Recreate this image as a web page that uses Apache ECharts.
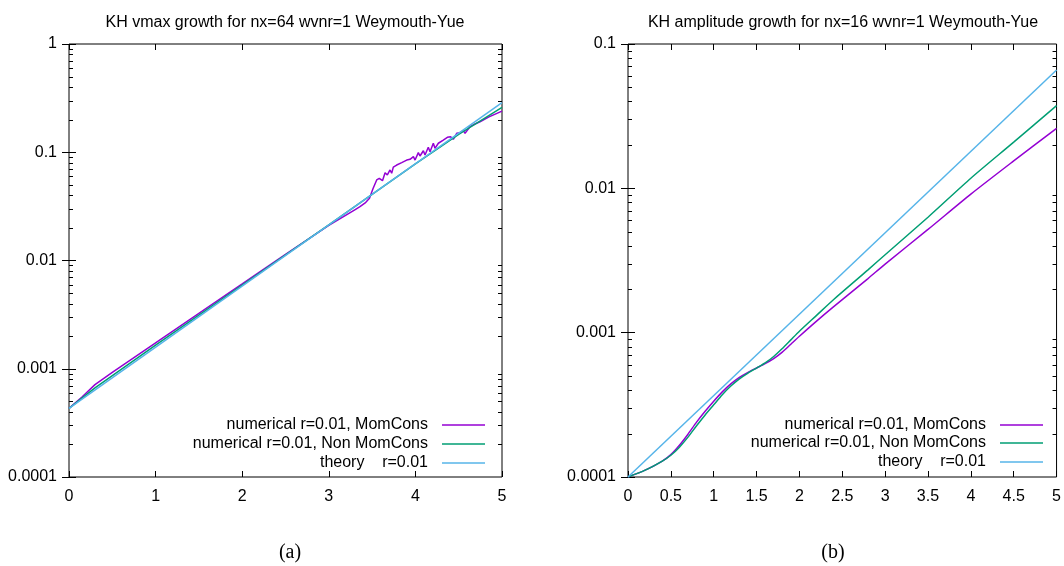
<!DOCTYPE html>
<html><head><meta charset="utf-8">
<script src="https://cdn.jsdelivr.net/npm/echarts@6/dist/echarts.min.js"></script>
<style>html,body{margin:0;padding:0;background:#fff}#c{width:1064px;height:566px}</style>
</head><body><div id="c"></div>
<script>
// ---- texts ----
const titleA = 'KH vmax growth for nx=64 wvnr=1 Weymouth-Yue';
const titleB = 'KH amplitude growth for nx=16 wvnr=1 Weymouth-Yue';
const seriesNames = ['numerical r=0.01, MomCons', 'numerical r=0.01, Non MomCons', 'theory    r=0.01'];
const captions = ['(a)', '(b)'];
const yTickLabelsA = ['0.0001', '0.001', '0.01', '0.1', '1'];
const yTickLabelsB = ['0.0001', '0.001', '0.01', '0.1'];

// ---- panel (a): vmax growth, nx=64 ----
const momA_t = [0, 0.15, 0.3, 0.5, 1, 1.5, 2, 2.5, 3, 3.3, 3.36, 3.42, 3.47, 3.51, 3.553, 3.583, 3.62, 3.65, 3.676, 3.707, 3.726, 3.745, 3.784, 3.842, 3.9, 3.938, 3.977, 3.996, 4.034, 4.053, 4.092, 4.111, 4.149, 4.169, 4.207, 4.226, 4.265, 4.322, 4.369, 4.407, 4.438, 4.477, 4.515, 4.554, 4.573, 4.63, 4.688, 4.746, 4.85, 5];
const momA_v = [4.3e-4, 5.48e-4, 7.13e-4, 9.25e-4, 1.73e-3, 3.24e-3, 6.07e-3, 1.14e-2, 2.11e-2, 2.94e-2, 0.0314, 0.0340, 0.0375, 0.046, 0.0555, 0.0574, 0.0546, 0.0647, 0.0617, 0.0686, 0.0640, 0.0728, 0.0762, 0.0802, 0.0847, 0.0861, 0.0910, 0.0847, 0.0991, 0.0923, 0.1033, 0.0944, 0.1112, 0.1012, 0.1211, 0.1087, 0.1211, 0.1297, 0.1374, 0.1393, 0.1318, 0.1496, 0.1517, 0.1581, 0.1496, 0.1722, 0.1824, 0.1914, 0.212, 0.24];
const nonA_t = [0, 0.3, 1, 2, 3, 4, 4.5, 5];
const nonA_v = [4.3e-4, 6.65e-4, 1.65e-3, 5.93e-3, 2.13e-2, 7.82e-2, 0.1465, 0.26];
const theoA_t = [0, 5];
const theoA_v = [4.3e-4, 0.287];

// ---- panel (b): amplitude growth, nx=16 ----
const momB_t = [0, 0.2, 0.4, 0.5, 0.6, 0.7, 0.8, 0.9, 1.0, 1.1, 1.2, 1.3, 1.4, 1.5, 1.6, 1.7, 1.8, 1.9, 2.0, 2.2, 2.4, 2.8, 3.0, 3.5, 4.0, 4.5, 5.0];
const momB_v = [1.0e-4, 1.115e-4, 1.29e-4, 1.43e-4, 1.66e-4, 1.98e-4, 2.399e-4, 2.851e-4, 3.350e-4, 3.890e-4, 4.416e-4, 4.898e-4, 5.309e-4, 5.689e-4, 6.095e-4, 6.607e-4, 7.328e-4, 8.318e-4, 9.441e-4, 1.202e-3, 1.514e-3, 2.371e-3, 2.985e-3, 5.19e-3, 9.120e-3, 1.549e-2, 2.606e-2];
const nonB_t = [0, 0.2, 0.4, 0.5, 0.6, 0.7, 0.8, 0.9, 1.0, 1.1, 1.2, 1.3, 1.4, 1.5, 1.6, 1.7, 1.8, 1.9, 2.0, 2.2, 2.4, 2.8, 3.0, 3.5, 4.0, 4.5, 5.0];
const nonB_v = [1.0e-4, 1.115e-4, 1.29e-4, 1.415e-4, 1.61e-4, 1.89e-4, 2.265e-4, 2.692e-4, 3.162e-4, 3.715e-4, 4.266e-4, 4.786e-4, 5.248e-4, 5.689e-4, 6.166e-4, 6.839e-4, 7.762e-4, 8.913e-4, 1.023e-3, 1.318e-3, 1.698e-3, 2.723e-3, 3.467e-3, 6.31e-3, 1.175e-2, 2.089e-2, 3.741e-2];
const theoB_t = [0, 5];
const theoB_v = [1.0e-4, 0.066];

const colors = ['#9400d3', '#009e73', '#56b4e9'];
const FONT = 'Liberation Sans, Arial, sans-serif';
const FS = 16;

const zip = (t, v) => t.map((x, i) => [x, v[i]]);

function minorVals(lo, hi) {
  const out = [];
  for (let e = lo; e < hi; e++) for (let m = 2; m <= 9; m++) out.push(m * Math.pow(10, e));
  return out;
}

function minorTicks(xi, yi, xmin, xmax, vals) {
  return {
    type: 'custom', xAxisIndex: xi, yAxisIndex: yi, silent: true, z: 10,
    data: vals.map(v => [xmin, v]),
    encode: { x: 0, y: 1 },
    renderItem: (params, api) => {
      const v = api.value(1);
      const pL = api.coord([xmin, v]);
      const pR = api.coord([xmax, v]);
      const yy = Math.round(pL[1]) + 0.5;
      return { type: 'group', children: [
        { type: 'line', shape: { x1: pL[0], y1: yy, x2: pL[0] + 4, y2: yy }, style: { stroke: '#000', lineWidth: 1 } },
        { type: 'line', shape: { x1: pR[0], y1: yy, x2: pR[0] - 4, y2: yy }, style: { stroke: '#000', lineWidth: 1 } }
      ] };
    }
  };
}

function xAx(gi, interval, pos, showLabel) {
  return {
    type: 'value', gridIndex: gi, min: 0, max: 5, interval: interval, position: pos,
    axisLine: { show: false }, splitLine: { show: false },
    axisTick: { show: true, inside: true, length: 6, lineStyle: { color: '#000' } },
    axisLabel: { show: showLabel, color: '#000', fontSize: FS, fontFamily: FONT, margin: 12,
      formatter: v => String(v) }
  };
}
function yAx(gi, min, max, labels, pos, showLabel) {
  return {
    type: 'log', logBase: 10, gridIndex: gi, min: min, max: max, position: pos,
    axisLine: { show: false }, splitLine: { show: false },
    axisTick: { show: true, inside: true, length: 7, lineStyle: { color: '#000' } },
    axisLabel: { show: showLabel, color: '#000', fontSize: FS, fontFamily: FONT, margin: 12,
      formatter: v => labels[Math.round(Math.log10(v)) + 4] }
  };
}
function line(name, data, ci, xi, yi, smooth) {
  return { name: name, type: 'line', xAxisIndex: xi, yAxisIndex: yi, data: data, symbol: 'none',
    smooth: smooth, lineStyle: { color: colors[ci], width: 1.5 }, itemStyle: { color: colors[ci] },
    animation: false, z: 3 };
}
function leg(name, right, top) {
  return { data: [name], orient: 'vertical', align: 'right', right: right, top: top, padding: 0,
    icon: 'rect', itemWidth: 43, itemHeight: 1.5,
    textStyle: { fontSize: FS, fontFamily: FONT, color: '#000', padding: [0, 9, 0, 0] } };
}

const chart = echarts.init(document.getElementById('c'), null, { renderer: 'canvas' });
chart.setOption({
  animation: false,
  backgroundColor: '#fff',
  title: [
    { text: titleA, left: 280, top: 10, textAlign: 'center', textStyle: { fontSize: FS, fontWeight: 'normal', fontFamily: FONT, color: '#000' } },
    { text: titleB, left: 838, top: 10, textAlign: 'center', textStyle: { fontSize: FS, fontWeight: 'normal', fontFamily: FONT, color: '#000' } },
    { text: captions[0], left: 285, top: 538, textAlign: 'center', textStyle: { fontSize: 20, fontWeight: 'normal', fontFamily: 'Liberation Serif, Times New Roman, serif', color: '#000' } },
    { text: captions[1], left: 828, top: 538, textAlign: 'center', textStyle: { fontSize: 20, fontWeight: 'normal', fontFamily: 'Liberation Serif, Times New Roman, serif', color: '#000' } }
  ],
  grid: [
    { left: 69, right: 562, top: 44, bottom: 89, show: true, borderColor: '#000', borderWidth: 1, backgroundColor: 'transparent' },
    { left: 628, right: 2, top: 44, bottom: 89, show: true, borderColor: '#000', borderWidth: 1, backgroundColor: 'transparent' }
  ],
  xAxis: [
    xAx(0, 1, 'bottom', true), xAx(0, 1, 'top', false),
    xAx(1, 0.5, 'bottom', true), xAx(1, 0.5, 'top', false)
  ],
  yAxis: [
    yAx(0, 1e-4, 1, yTickLabelsA, 'left', true), yAx(0, 1e-4, 1, yTickLabelsA, 'right', false),
    yAx(1, 1e-4, 0.1, yTickLabelsB, 'left', true), yAx(1, 1e-4, 0.1, yTickLabelsB, 'right', false)
  ],
  legend: [
    leg(seriesNames[0], 579, 417), leg(seriesNames[1], 579, 436), leg(seriesNames[2], 579, 455),
    leg(seriesNames[0], 21, 417), leg(seriesNames[1], 21, 435), leg(seriesNames[2], 21, 454)
  ],
  series: [
    line(seriesNames[0], zip(momA_t, momA_v), 0, 0, 0, false),
    line(seriesNames[1], zip(nonA_t, nonA_v), 1, 0, 0, false),
    line(seriesNames[2], zip(theoA_t, theoA_v), 2, 0, 0, false),
    line(seriesNames[0], zip(momB_t, momB_v), 0, 2, 2, 0.25),
    line(seriesNames[1], zip(nonB_t, nonB_v), 1, 2, 2, 0.25),
    line(seriesNames[2], zip(theoB_t, theoB_v), 2, 2, 2, false),
    minorTicks(0, 0, 0, 5, minorVals(-4, 0)),
    minorTicks(2, 2, 0, 5, minorVals(-4, -1))
  ]
});
</script>
</body></html>
